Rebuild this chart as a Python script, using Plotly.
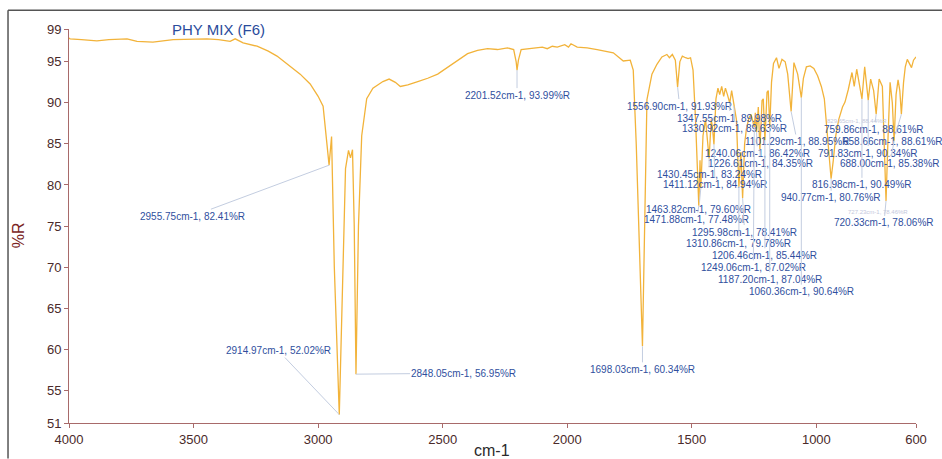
import plotly.graph_objects as go

# ---------------- data ----------------
wavenumber = [
    4000, 3996, 3950, 3888, 3840, 3767, 3727, 3663, 3582, 3520, 3446, 3400, 3353, 3333, 3301,
    3245, 3200, 3165, 3124, 3072, 3032, 3000, 2980, 2968, 2956, 2946, 2935, 2915, 2900, 2890,
    2878, 2870, 2862, 2855, 2848, 2838, 2825, 2805, 2780, 2740, 2715, 2690, 2670, 2640, 2600,
    2560, 2520, 2480, 2440, 2400, 2360, 2320, 2280, 2240, 2215, 2205, 2201.5, 2196, 2185, 2150,
    2100, 2080, 2060, 2040, 2010, 1995, 1985, 1960, 1920, 1880, 1815, 1775, 1747, 1735, 1723,
    1698, 1688, 1680, 1660, 1640, 1620, 1600, 1590, 1578, 1566, 1557, 1548, 1538, 1525, 1515,
    1505, 1495, 1485, 1478, 1471.9, 1467, 1463.8, 1455, 1445, 1430.5, 1422, 1417, 1411.1, 1403,
    1395, 1388, 1380, 1372, 1365, 1357, 1347.6, 1340, 1330.9, 1321, 1316, 1310.9, 1303, 1296,
    1288, 1280, 1270, 1262, 1249.1, 1245, 1240.1, 1233, 1226.6, 1218, 1213, 1206.5, 1198, 1193,
    1187.2, 1180, 1172, 1160, 1150, 1138, 1125, 1115, 1101.3, 1090, 1075, 1060.4, 1052, 1040,
    1025, 1010, 995, 980, 968, 958, 948, 940.8, 932, 922, 910, 895, 885, 872, 857, 848, 838,
    828, 817, 806, 798, 791.8, 782, 770, 759.9, 748, 735, 728, 720.3, 712, 704, 695, 688, 680,
    672, 665, 658.7, 650, 643, 635, 625, 618, 610, 600,
]
reflectance = [
    97.9, 97.8, 97.7, 97.55, 97.7, 97.8, 97.5, 97.4, 97.7, 97.75, 97.8, 97.7, 97.5, 97.8, 97.3,
    96.9, 96.3, 95.7, 94.7, 93.5, 92.3, 90.8, 89.6, 86.0, 82.41, 85.9, 70.0, 52.02, 70.0, 82.0,
    84.2, 83.3, 84.3, 75.0, 56.95, 75.0, 86.0, 90.5, 91.8, 92.6, 92.9, 92.5, 92.0, 92.2, 92.6,
    93.0, 93.5, 94.3, 95.2, 96.0, 96.4, 96.6, 96.5, 96.7, 96.5, 95.0, 93.99, 95.2, 96.5, 96.6,
    96.8, 96.6, 96.9, 96.8, 97.1, 96.8, 97.2, 96.8, 96.7, 96.5, 96.1, 95.1, 95.2, 94.0, 85.0,
    60.34, 80.0, 90.4, 93.5, 94.7, 95.6, 95.9, 95.5, 95.9, 95.2, 91.93, 95.0, 95.7, 95.5, 95.4,
    95.5, 94.0, 88.0, 82.0, 77.48, 83.0, 79.6, 86.0, 88.0, 83.24, 88.0, 87.0, 84.94, 90.5,
    91.8, 91.0, 92.0, 90.8, 91.8, 91.0, 89.98, 91.5, 89.63, 88.0, 84.0, 79.78, 84.0, 78.41,
    85.0, 87.0, 88.2, 88.6, 87.02, 88.8, 86.42, 89.5, 84.35, 90.3, 90.5, 85.44, 91.3, 91.5,
    87.04, 92.5, 94.8, 95.5, 94.2, 95.3, 95.0, 93.5, 88.95, 94.9, 93.5, 90.64, 93.0, 94.4,
    94.5, 94.2, 93.3, 92.0, 90.5, 87.0, 83.0, 80.76, 83.0, 86.0, 88.0, 89.5, 90.1, 91.6, 93.7,
    92.0, 94.1, 92.5, 90.49, 94.4, 92.5, 90.34, 92.9, 91.5, 88.61, 92.9, 92.0, 86.0, 78.06,
    86.0, 92.5, 90.0, 85.38, 91.0, 92.8, 91.5, 88.61, 92.5, 94.4, 95.3, 94.8, 94.3, 95.2, 95.6,
]

peak_wn = [2955.75, 2914.97, 2848.05, 2201.52, 1698.03, 1556.90, 1347.55, 1330.92, 1101.29,
           1240.06, 1226.61, 1430.45, 1411.12, 940.77, 1463.82, 1471.88, 1295.98, 1310.86,
           1206.46, 1249.06, 1187.20, 1060.36, 759.86, 658.66, 791.83, 688.00, 816.98, 720.33]
peak_r = [82.41, 52.02, 56.95, 93.99, 60.34, 91.93, 89.98, 89.63, 88.95,
          86.42, 84.35, 83.24, 84.94, 80.76, 79.60, 77.48, 78.41, 79.78,
          85.44, 87.02, 87.04, 90.64, 88.61, 88.61, 90.34, 85.38, 90.49, 78.06]

ghost_labels = ["829.65cm-1, 88.44%R", "727.23cm-1, 78.46%R"]
ghost_wn = [835, 751]
ghost_r = [87.8, 76.7]

y_ticks = [51, 55, 60, 65, 70, 75, 80, 85, 90, 95, 99]
x_ticks = [4000, 3500, 3000, 2500, 2000, 1500, 1000, 600]

# label offsets in pixels (layout only)
label_offsets = [(-137, 51), (-61, -64), (108, -1), (0, 25), (0, 23), (2, 19), (0, 15), (1, 23),
                 (6, 30), (1, 21), (1, 14), (0, 16), (1, 40), (0, 19), (-2, 21), (-2, 14),
                 (2, 34), (0, 57), (0, 115), (-1, 140), (0, 152), (0, 194), (-2, 15), (-8, 27),
                 (0, 53), (-4, 23), (0, 86), (-2, 22)]

fig = go.Figure()
fig.add_trace(go.Scatter(x=wavenumber, y=reflectance, mode="lines",
                         line=dict(color="#f2b33a", width=1.3), hoverinfo="skip",
                         showlegend=False))

label_color = "#2f4f9e"
annotations = []
for w, r, (ax, ay) in zip(peak_wn, peak_r, label_offsets):
    annotations.append(dict(
        x=w, y=r, xref="x", yref="y", text=f"{w:.2f}cm-1, {r:.2f}%R",
        showarrow=True, arrowhead=0, arrowwidth=1, arrowcolor="#c3cde0",
        ax=ax, ay=ay, standoff=0, startstandoff=0,
        font=dict(family="Arial, Liberation Sans, sans-serif", size=10, color=label_color),
    ))
for t, w, r in zip(ghost_labels, ghost_wn, ghost_r):
    annotations.append(dict(x=w, y=r, xref="x", yref="y", text=t, showarrow=False,
                            font=dict(family="Arial, Liberation Sans, sans-serif", size=6,
                                      color="#c4c8dc")))

# title and axis titles
annotations.append(dict(x=0.176, y=1.0, xref="paper", yref="paper", text="PHY MIX (F6)",
                        showarrow=False, xanchor="center", yanchor="middle",
                        font=dict(family="Arial, Liberation Sans, sans-serif", size=15,
                                  color="#2a4c9c")))
annotations.append(dict(x=-0.060, y=0.477, xref="paper", yref="paper", text="%R",
                        showarrow=False, textangle=-90, xanchor="center", yanchor="middle",
                        font=dict(family="Arial, Liberation Sans, sans-serif", size=16,
                                  color="#7a2424")))
annotations.append(dict(x=0.4994, y=-0.071, xref="paper", yref="paper", text="cm-1",
                        showarrow=False, xanchor="center", yanchor="middle",
                        font=dict(family="Arial, Liberation Sans, sans-serif", size=16,
                                  color="#2a2a2a")))

axis_line = "#a86a6a"
tick_font = dict(family="Arial, Liberation Sans, sans-serif", size=13, color="#4a2a2a")

fig.update_layout(
    width=942, height=459,
    margin=dict(l=69, r=26, t=29, b=32),
    paper_bgcolor="white", plot_bgcolor="white",
    xaxis=dict(range=[4000, 600], tickmode="array", tickvals=x_ticks,
               ticktext=[str(v) for v in x_ticks], showgrid=False, zeroline=False,
               showline=True, linecolor=axis_line, linewidth=1, ticks="outside",
               ticklen=4, tickcolor=axis_line, tickfont=tick_font),
    yaxis=dict(range=[51, 99], tickmode="array", tickvals=y_ticks,
               ticktext=[str(v) for v in y_ticks], showgrid=False, zeroline=False,
               showline=True, linecolor=axis_line, linewidth=1, ticks="outside",
               ticklen=4, tickcolor=axis_line, tickfont=tick_font),
    annotations=annotations,
    shapes=[
        dict(type="line", xref="paper", yref="paper", x0=-0.0720, x1=1.04, y0=1.0477,
             y1=1.0477, line=dict(color="#555555", width=1.5)),
        dict(type="line", xref="paper", yref="paper", x0=-0.0720, x1=-0.0720, y0=1.0477,
             y1=-0.09, line=dict(color="#555555", width=1.5)),
    ],
)

fig.write_html("out.html")
